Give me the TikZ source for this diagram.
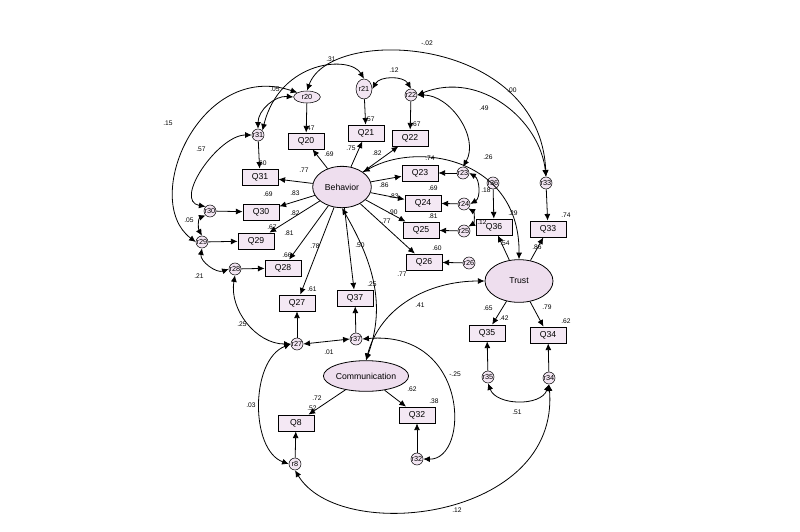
\documentclass[tikz,border=0pt]{standalone}
\usepackage{fontspec}
\setmainfont{Liberation Sans}
\usetikzlibrary{arrows.meta,shapes.geometric}

\begin{document}
\begin{tikzpicture}[x=0.75pt,y=-0.75pt,
    obs/.style={draw,semithick,fill=violet!9,minimum width=27pt,minimum height=12pt,inner sep=0pt,font=\fontsize{6.5}{7}\selectfont},
    lat/.style={draw,semithick,ellipse,fill=violet!13,inner sep=0pt,font=\fontsize{6.5}{7}\selectfont},
    err/.style={draw,circle,fill=violet!10,minimum size=9pt,inner sep=0pt,font=\fontsize{5.5}{6}\selectfont},
    path/.style={semithick,-{Latex[length=5pt,width=4.5pt]}},
    cov/.style={semithick,{Latex[length=5pt,width=4.5pt]}-{Latex[length=5pt,width=4.5pt]}},
    val/.style={font=\fontsize{5}{6}\selectfont,inner sep=0pt}]
  \useasboundingbox (0,0) rectangle (800,532);

  % latent variables
  \node[lat,minimum width=44pt,minimum height=31pt] (beh) at (342,187) {Behavior};
  \node[lat,minimum width=51pt,minimum height=32pt] (tru) at (519,281) {Trust};
  \node[lat,minimum width=54pt,minimum height=23pt] (com) at (366,376) {Communication};

  % observed variables
  \foreach \q/\x/\y in {20/306/141,21/366/133,22/410/138,31/260/177,30/261/212,29/256/241,
      28/283/268,27/297/303,37/355/298,23/420/173,24/423/203,25/421/230,26/424/262,
      36/494/227,33/548/229,35/487/333,34/548/335,32/417/415,8/296/423}
    \node[obs] (Q\q) at (\x,\y) {Q\q};

  % error terms
  \node[err,ellipse,minimum width=20pt,minimum height=9pt] (r20) at (307,97) {r20};
  \node[err,ellipse,minimum width=12pt,minimum height=15pt] (r21) at (364,89) {r21};
  \foreach \q/\x/\y in {22/411/95,31/258/135,30/210/211,29/202/242,28/235/269,27/297/344,
      37/356/339,23/463/173,24/464/204,25/464/231,26/469/263,36/493/183,33/546/183,
      35/488/377,34/549/378,32/417/459,8/295/464}
    \node[err] (r\q) at (\x,\y) {r\q};

  % error paths
  \foreach \q in {20,21,22,31,30,29,28,23,24,25,26,36,33,27,37,35,34,32,8}
    \draw[path] (r\q) -- (Q\q);

  % loadings
  \foreach \q in {20,21,22,31,30,29,28,27,37,23,24,25,26}
    \draw[path] (beh) -- (Q\q);
  \foreach \q in {36,33,35,34}
    \draw[path] (tru) -- (Q\q);
  \foreach \q in {32,8}
    \draw[path] (com) -- (Q\q);

  % latent covariances
  \draw[cov] (beh.south) to[out=-60,in=70] (com.north);
  \draw[cov] (beh.north east) .. controls (420,140) and (520,160) .. (tru.north);
  \draw[cov] (com.north) to[out=75,in=180] (tru.west);

  % error covariances
  \draw[cov] (r20.west) to[out=175,in=90] (r31.north);
  \draw[cov] (r21.north) .. controls (350,55) and (280,60) .. (r31.north east);
  \draw[cov] (r20.north west) .. controls (200,60) and (140,200) .. (r29.west);
  \draw[cov] (r21.east) to[out=60,in=120] (r22.north);
  \draw[cov] (r20.north) .. controls (330,25) and (540,35) .. (r33.north);
  \draw[cov] (r22.east) .. controls (480,70) and (540,120) .. (r33.north);
  \draw[cov] (r22.east) to[out=0,in=60] (r23.north);
  \draw[cov] (r23.east) to[out=-30,in=30] (r24.east);
  \draw[cov] (r24.south east) to[out=-30,in=30] (r25.north east);
  \draw[cov] (r31.west) to[out=180,in=170] (r30.north west);
  \draw[cov] (r30.south west) to[out=200,in=120] (r29.north);
  \draw[cov] (r29.south) to[out=-100,in=200] (r28.west);
  \draw[cov] (r28.south) to[out=-100,in=180] (r27.west);
  \draw[cov] (r27.east) -- (r37.west);
  \draw[cov] (r27.west) .. controls (250,360) and (250,450) .. (r8.west);
  \draw[cov] (r37.east) .. controls (470,330) and (470,460) .. (r32.east);
  \draw[cov] (r35.south) to[out=-70,in=-110] (r34.south);
  \draw[cov] (r8.south) .. controls (340,545) and (560,520) .. (r34.south);

  % values
  \foreach \v/\x/\y in {.47/310/128,.57/370/119,.67/416/124,.60/262/163,.69/268/194,
      .67/272/227,.66/287/255,.61/312/289,.25/372/284,.74/430/158,.69/433/188,.81/433/216,
      .60/437/248,.29/513/213,.74/566/215,.42/504/318,.62/566/321,.38/434/401,.52/312/408,
      .69/329/154,.75/351/148,.82/377/153,.77/304/170,.83/295/193,.82/295/213,.81/289/233,
      .78/315/246,.50/360/245,.86/384/185,.83/394/196,.90/393/212,.77/386/221,.77/402/274,
      .54/505/243,.86/537/247,.65/488/308,.79/547/307,.62/412/389,.72/317/398,.41/420/305,
      .31/331/59,.12/394/70,.05/275/89,.15/168/123,.57/201/149,.05/189/220,.21/199/276,
      .25/242/324,.01/329/352,.03/251/405,-.25/455/374,.12/457/510,.51/517/412,-.02/427/43,
      .00/512/90,.49/484/108,.26/488/157,.18/486/190,.12/482/222}
    \node[val] at (\x,\y) {\v};
\end{tikzpicture}
\end{document}
